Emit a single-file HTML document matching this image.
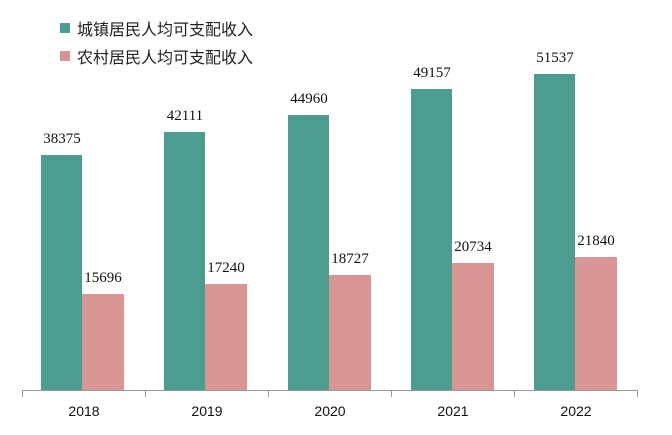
<!DOCTYPE html>
<html><head><meta charset="utf-8"><style>body{margin:0;background:#fff}</style></head>
<body>
<svg width="672" height="430" xmlns="http://www.w3.org/2000/svg">
<rect width="672" height="430" fill="#fff"/>
<rect x="60" y="23" width="10" height="10" fill="#4d9c90"/>
<text x="77" y="35" font-family="'Liberation Sans','Noto Sans CJK SC',sans-serif" font-size="16" fill="#222">城镇居民人均可支配收入</text>
<rect x="60" y="51" width="10" height="10" fill="#d99594"/>
<text x="77" y="63" font-family="'Liberation Sans','Noto Sans CJK SC',sans-serif" font-size="16" fill="#222">农村居民人均可支配收入</text>
<g font-family="'Liberation Serif',serif" font-size="15" fill="#111" text-anchor="middle">
<rect x="41" y="155" width="41" height="235" fill="#4d9c90"/>
<rect x="82" y="294" width="42" height="96" fill="#d99594"/>
<text x="62" y="143">38375</text><text x="103" y="282">15696</text>
<rect x="164" y="132" width="41" height="258" fill="#4d9c90"/>
<rect x="205" y="284" width="42" height="106" fill="#d99594"/>
<text x="185" y="120">42111</text><text x="226" y="272">17240</text>
<rect x="288" y="115" width="41" height="275" fill="#4d9c90"/>
<rect x="329" y="275" width="42" height="115" fill="#d99594"/>
<text x="309" y="103">44960</text><text x="350" y="263">18727</text>
<rect x="411" y="89" width="41" height="301" fill="#4d9c90"/>
<rect x="452" y="263" width="42" height="127" fill="#d99594"/>
<text x="432" y="77">49157</text><text x="473" y="251">20734</text>
<rect x="534" y="74" width="41" height="316" fill="#4d9c90"/>
<rect x="575" y="257" width="42" height="133" fill="#d99594"/>
<text x="555" y="62">51537</text><text x="596" y="245">21840</text>
</g>
<g stroke="#999" stroke-width="1">
<line x1="22" y1="390.5" x2="638" y2="390.5"/>
<line x1="22.5" y1="390" x2="22.5" y2="397"/>
<line x1="145.5" y1="390" x2="145.5" y2="397"/>
<line x1="268.5" y1="390" x2="268.5" y2="397"/>
<line x1="391.5" y1="390" x2="391.5" y2="397"/>
<line x1="514.5" y1="390" x2="514.5" y2="397"/>
<line x1="637.5" y1="390" x2="637.5" y2="397"/>
</g>
<g font-family="'Liberation Sans',sans-serif" font-size="14" fill="#111" text-anchor="middle">
<text x="84" y="416">2018</text><text x="207" y="416">2019</text><text x="330" y="416">2020</text><text x="453" y="416">2021</text><text x="576" y="416">2022</text>
</g>
</svg>
</body></html>
